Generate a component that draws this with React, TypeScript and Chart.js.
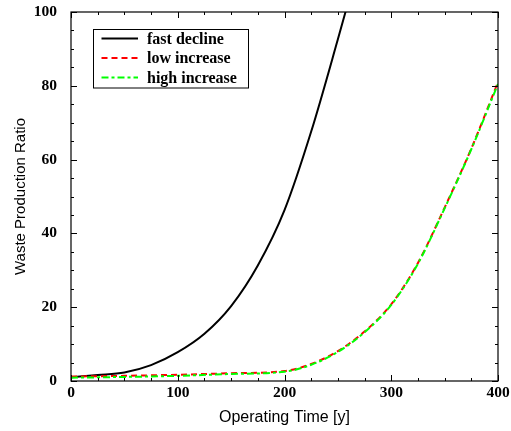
import React, { useEffect, useRef } from "react";
import { Chart, registerables } from "chart.js";

Chart.register(...registerables);

// ---- data ----
const fastYears = [0, 25, 50, 75, 100, 125, 150, 175, 200, 225, 250, 260];
const fastDecline = [1.0, 1.6, 2.3, 4.3, 7.8, 12.8, 20.3, 31.3, 46.3, 67.6, 92.6, 103];

const incYears = [0, 50, 100, 150, 200, 225, 250, 275, 300, 325, 350, 375, 400];
const lowIncrease = [1.2, 1.4, 1.7, 2.1, 2.7, 4.6, 8.1, 13.4, 20.8, 32.0, 47.0, 63.0, 81.0];
const highIncrease = [0.9, 1.1, 1.4, 1.9, 2.5, 4.4, 7.9, 13.2, 20.6, 31.8, 46.8, 62.8, 80.5];

const seriesLabels = ["fast decline", "low increase", "high increase"];
const xTicks = [0, 100, 200, 300, 400];
const yTicks = [0, 20, 40, 60, 80, 100];
const xMinorStep = 25;
const yMinorStep = 5;
const xTitle = "Operating Time [y]";
const yTitle = "Waste Production Ratio";

const framePlugin = {
  id: "frameTicks",
  afterDatasetsDraw(chart: any) {
    const { ctx, chartArea: a, scales } = chart;
    const x = scales.x;
    const y = scales.y;
    ctx.save();
    ctx.strokeStyle = "#000";
    ctx.lineWidth = 1.2;
    ctx.strokeRect(a.left, a.top, a.right - a.left, a.bottom - a.top);
    ctx.lineWidth = 1;
    const line = (x1: number, y1: number, x2: number, y2: number) => {
      ctx.beginPath();
      ctx.moveTo(x1, y1);
      ctx.lineTo(x2, y2);
      ctx.stroke();
    };
    const xMin = xTicks[0];
    const xMax = xTicks[xTicks.length - 1];
    for (let v = xMin; v <= xMax; v += xMinorStep) {
      const p = Math.round(x.getPixelForValue(v)) + 0.5;
      const len = xTicks.includes(v) ? 6 : 3;
      line(p, a.bottom, p, a.bottom - len);
      line(p, a.top, p, a.top + len);
    }
    const yMin = yTicks[0];
    const yMax = yTicks[yTicks.length - 1];
    for (let v = yMin; v <= yMax; v += yMinorStep) {
      const p = Math.round(y.getPixelForValue(v)) + 0.5;
      const len = yTicks.includes(v) ? 6 : 3;
      line(a.left, p, a.left + len, p);
      line(a.right, p, a.right - len, p);
    }
    ctx.restore();
  },
  afterDraw(chart: any) {
    const { ctx, chartArea: a } = chart;
    const bx = a.left + 21.5;
    const by = a.top + 16.5;
    const bw = 155;
    const bh = 58.5;
    ctx.save();
    ctx.fillStyle = "#fff";
    ctx.fillRect(bx, by, bw, bh);
    ctx.strokeStyle = "#000";
    ctx.lineWidth = 1;
    ctx.strokeRect(Math.round(bx) + 0.5, Math.round(by) + 0.5, bw, bh);
    chart.data.datasets.forEach((ds: any, i: number) => {
      const cy = by + 10 + i * 19.5;
      ctx.save();
      ctx.strokeStyle = ds.borderColor;
      ctx.lineWidth = ds.borderWidth;
      ctx.setLineDash(ds.borderDash || []);
      ctx.beginPath();
      ctx.moveTo(bx + 9, cy);
      ctx.lineTo(bx + 45.5, cy);
      ctx.stroke();
      ctx.restore();
      ctx.fillStyle = "#000";
      ctx.font = "bold 16px 'Liberation Serif', 'Times New Roman', serif";
      ctx.textAlign = "left";
      ctx.textBaseline = "middle";
      ctx.fillText(ds.label, bx + 54.5, cy + 1);
    });
    ctx.restore();
  },
};

export default function App() {
  const ref = useRef<HTMLCanvasElement | null>(null);
  useEffect(() => {
    if (!ref.current) return;
    const toPts = (xs: number[], ys: number[]) => xs.map((v, i) => ({ x: v, y: ys[i] }));
    const chart = new Chart(ref.current, {
      type: "line",
      data: {
        datasets: [
          {
            label: seriesLabels[0],
            data: toPts(fastYears, fastDecline),
            borderColor: "#000000",
            borderWidth: 2,
            pointRadius: 0,
            cubicInterpolationMode: "monotone",
            fill: false,
            order: 2,
          },
          {
            label: seriesLabels[1],
            data: toPts(incYears, lowIncrease),
            borderColor: "#ff0000",
            borderWidth: 2,
            borderDash: [6, 4],
            pointRadius: 0,
            cubicInterpolationMode: "monotone",
            fill: false,
            order: 1,
          },
          {
            label: seriesLabels[2],
            data: toPts(incYears, highIncrease),
            borderColor: "#00ff00",
            borderWidth: 2,
            borderDash: [7, 3, 3, 3],
            pointRadius: 0,
            cubicInterpolationMode: "monotone",
            fill: false,
            order: 0,
          },
        ],
      } as any,
      options: {
        animation: false,
        responsive: false,
        devicePixelRatio: 1,
        layout: { padding: { top: 12, right: 13, left: 0, bottom: 0 } },
        plugins: { legend: { display: false }, tooltip: { enabled: false } },
        scales: {
          x: {
            type: "linear",
            min: xTicks[0],
            max: xTicks[xTicks.length - 1],
            grid: { display: false, drawTicks: false },
            border: { display: false },
            ticks: {
              stepSize: 100,
              padding: 3,
              color: "#000",
              font: { family: "'Liberation Serif', 'Times New Roman', serif", size: 15.5, weight: "bold" },
            },
            title: {
              display: true,
              text: xTitle,
              color: "#000",
              font: { family: "'Liberation Sans', Arial, sans-serif", size: 16 },
              padding: { top: 0, bottom: 4 },
            },
            afterFit: (s: any) => {
              s.height = 50;
              s.paddingLeft = 0;
              s.paddingRight = 0;
            },
          },
          y: {
            type: "linear",
            min: yTicks[0],
            max: yTicks[yTicks.length - 1],
            grid: { display: false, drawTicks: false },
            border: { display: false },
            ticks: {
              stepSize: 20,
              padding: 14,
              color: "#000",
              font: { family: "'Liberation Serif', 'Times New Roman', serif", size: 15.5, weight: "bold" },
            },
            title: {
              display: true,
              text: yTitle,
              color: "#000",
              font: { family: "'Liberation Sans', Arial, sans-serif", size: 15 },
              padding: { top: 12, bottom: 0 },
            },
            afterFit: (s: any) => {
              s.width = 71;
              s.paddingTop = 0;
              s.paddingBottom = 0;
            },
          },
        },
      } as any,
      plugins: [framePlugin],
    });
    return () => chart.destroy();
  }, []);
  return (
    <div style={{ position: "absolute", left: 0, top: 0, width: 511, height: 431, background: "#fff" }}>
      <canvas ref={ref} width={511} height={431} />
    </div>
  );
}
